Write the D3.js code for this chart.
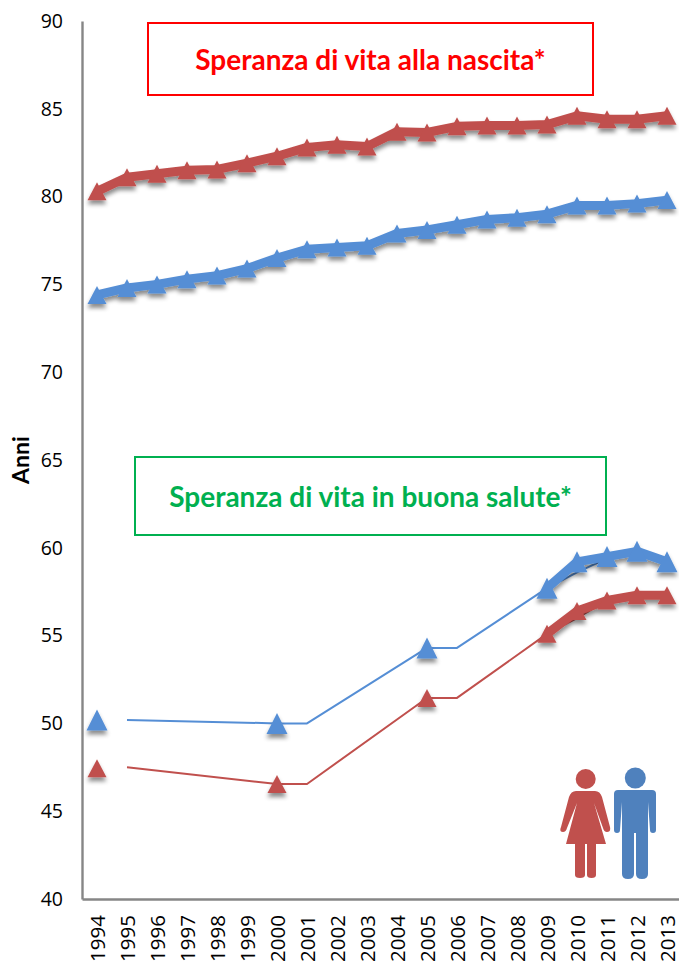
<!DOCTYPE html>
<html>
<head>
<meta charset="utf-8">
<script src="https://cdn.jsdelivr.net/npm/d3@7"></script>
<style>
html,body{margin:0;padding:0;background:#fff;}
svg{display:block;}
</style>
</head>
<body>
<div id="chart"></div>
<script>
var years=[1994,1995,1996,1997,1998,1999,2000,2001,2002,2003,2004,2005,2006,2007,2008,2009,2010,2011,2012,2013];
var yTicks=[40,45,50,55,60,65,70,75,80,85,90];

// speranza di vita alla nascita
var lifeF=[80.3,81.1,81.3,81.5,81.55,81.9,82.3,82.8,82.95,82.85,83.7,83.65,84.0,84.05,84.05,84.1,84.6,84.4,84.4,84.6];
var lifeM=[74.4,74.8,75.0,75.3,75.5,75.9,76.5,77.0,77.1,77.2,77.9,78.1,78.4,78.7,78.8,79.0,79.5,79.5,79.6,79.8];

// buona salute: linea sottile (serie vecchia) e linea spessa (serie nuova)
var thinYears=[1995,2000,2001,2005,2006,2009,2010,2011];
var healthFThin=[47.5,46.55,46.55,51.45,51.45,55.1,56.0,57.0];
var healthMThin=[50.2,50.0,50.0,54.3,54.3,57.7,58.6,59.4];
var thickYears=[2009,2010,2011,2012,2013];
var healthFThick=[55.1,56.4,57.0,57.3,57.3];
var healthMThick=[57.7,59.2,59.5,59.8,59.2];
var markYears=[1994,2000,2005,2009,2010,2011,2012,2013];
var markF=[47.45,46.55,51.45,55.1,56.4,57.0,57.3,57.3];
var markM=[50.2,50.0,54.3,57.7,59.2,59.5,59.8,59.2];

var width=679,height=963;
var red="#c0504d",blue="#558ed5";
var font="'Open Sans',sans-serif";
var titleFont="Lato,sans-serif";

var svg=d3.select("#chart").append("svg").attr("width",width).attr("height",height);

var defs=svg.append("defs");
defs.append("filter").attr("id","shadow")
    .attr("x","-10%").attr("y","-10%").attr("width","120%").attr("height","140%")
    .append("feDropShadow")
    .attr("dx",0).attr("dy",4).attr("stdDeviation",2)
    .attr("flood-color","#000").attr("flood-opacity",0.45);

var x=d3.scaleBand().domain(years).range([82,682]);
var y=d3.scaleLinear().domain([40,90]).range([899,21]);
function px(yr){return x(yr)+x.bandwidth()/2;}

// assi
var yAxis=svg.append("g").attr("transform","translate(82,0)")
    .call(d3.axisLeft(y).tickValues(yTicks).tickSize(0).tickPadding(19));
var xAxis=svg.append("g").attr("transform","translate(0,899)")
    .call(d3.axisBottom(x).tickSize(0).tickPadding(0));

yAxis.selectAll("text").style("font-family",font).style("font-size","19.5px").style("fill","#000");
xAxis.selectAll("text")
    .style("font-family",font).style("font-size","20.5px").style("fill","#000")
    .attr("text-anchor","end")
    .attr("dy",null)
    .attr("dominant-baseline","central")
    .attr("transform","translate(0,16) rotate(-90)")
    .attr("x",0).attr("y",0);
svg.selectAll(".domain").attr("stroke","#868686").attr("stroke-width",2.4);

svg.append("text")
    .attr("transform","translate(29,460) rotate(-90)")
    .attr("text-anchor","middle")
    .style("font-family",titleFont).style("font-weight","bold").style("font-size","23px")
    .text("Anni");

// riquadri
var boxes=[
    {label:"Speranza di vita alla nascita*",col:"#ff0000",x0:148,x1:593,y0:23,y1:95,ty:70},
    {label:"Speranza di vita in buona salute*",col:"#00b050",x0:135,x1:606,y0:457,y1:535,ty:507}
];
boxes.forEach(function(b){
    svg.append("rect").attr("x",b.x0).attr("y",b.y0).attr("width",b.x1-b.x0).attr("height",b.y1-b.y0)
        .attr("fill","#fff").attr("stroke",b.col).attr("stroke-width",2);
    svg.append("text").attr("x",(b.x0+b.x1)/2).attr("y",b.ty).attr("text-anchor","middle")
        .style("font-family",titleFont).style("font-weight","bold").style("font-size","28px")
        .style("fill",b.col).text(b.label);
});

var line=d3.line().x(function(d){return px(d[0]);}).y(function(d){return y(d[1]);});

// triangolo con base w e altezza h, centrato sul valore
function triangle(w,h){
    return d3.symbol().type({draw:function(ctx){
        ctx.moveTo(0,-h/2);
        ctx.lineTo(w/2,h/2);
        ctx.lineTo(-w/2,h/2);
        ctx.closePath();
    }})();
}

function zip(a,b){return a.map(function(v,i){return [v,b[i]];});}

function drawLine(g,data,col,w){
    g.append("path").attr("d",line(data)).attr("fill","none")
        .attr("stroke",col).attr("stroke-width",w).attr("stroke-linejoin","round");
}
function drawMarks(g,data,col,w,h){
    g.selectAll("path.mark").data(data).enter().append("path").attr("class","mark")
        .attr("d",triangle(w,h))
        .attr("fill",col)
        .attr("transform",function(d){return "translate("+px(d[0])+","+y(d[1])+")";});
}

// serie superiori
var gF=svg.append("g").attr("filter","url(#shadow)");
drawLine(gF,zip(years,lifeF),red,9);
drawMarks(gF,zip(years,lifeF),red,19,18);
var gM=svg.append("g").attr("filter","url(#shadow)");
drawLine(gM,zip(years,lifeM),blue,9);
drawMarks(gM,zip(years,lifeM),blue,19,18);

// serie buona salute
drawLine(svg.append("g"),zip(thinYears,healthMThin),blue,2);
drawLine(svg.append("g"),zip(thinYears,healthFThin),red,2);
var gM2=svg.append("g").attr("filter","url(#shadow)");
drawLine(gM2,zip(thickYears,healthMThick),blue,9);
drawMarks(gM2,zip(markYears,markM),blue,21,21);
var gF2=svg.append("g").attr("filter","url(#shadow)");
drawLine(gF2,zip(thickYears,healthFThick),red,9);
drawMarks(gF2,zip(markYears,markF),red,19,18);

// figurine donna e uomo
var woman=svg.append("g").attr("fill","#c0504d");
woman.append("circle").attr("cx",585.7).attr("cy",779).attr("r",10);
woman.append("path").attr("d","M576,791 L595,791 Q600,791 602,797 L610,827 Q611,832 607,832 Q604,832 603,828 L594,803 L606,844 L566,844 L577,803 L567,828 Q566,832 563,832 Q559,832 561,827 L569,797 Q571,791 576,791 Z");
woman.append("path").attr("d","M575,840 L585,840 L585,875 Q585,878 580,878 Q575,878 575,875 Z M587,840 L596,840 L596,875 Q596,878 591.5,878 Q587,878 587,875 Z");
var man=svg.append("g").attr("fill","#4f81bd");
man.append("circle").attr("cx",635.3).attr("cy",778).attr("r",10.5);
man.append("path").attr("d","M618,790 L652,790 Q656,790 656,794 L656,830 Q656,833 653,833 Q650,833 650,830 L648,802 L648,874 Q648,879 642,879 Q636,879 636,874 L636,833 L634,833 L634,874 Q634,879 628,879 Q622,879 622,874 L622,802 L620,830 Q620,833 617,833 Q614,833 614,830 L614,794 Q614,790 618,790 Z");
</script>
</body>
</html>
